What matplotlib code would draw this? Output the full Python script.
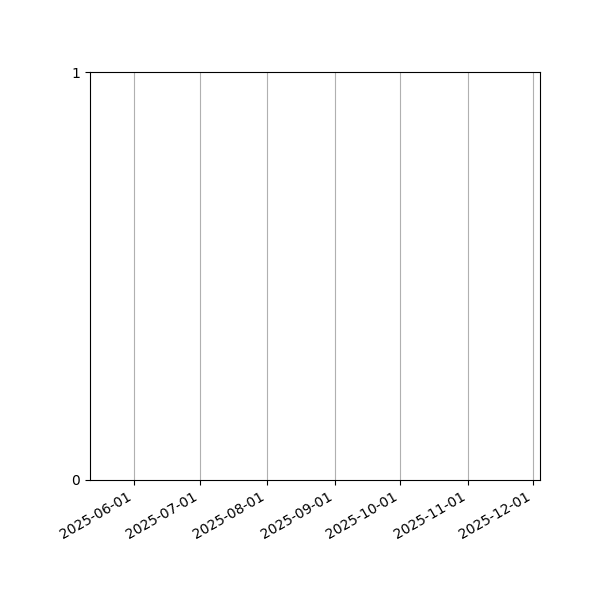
import matplotlib
matplotlib.use("Agg")
import matplotlib.pyplot as plt
import matplotlib.dates as mdates
from datetime import datetime

# empty date axis, only the range and the ticks are visible
xstart = datetime(2025, 5, 11, 19, 0)
xend = datetime(2025, 12, 4, 2, 0)
yticks = [0, 1]

fig = plt.figure(figsize=(6, 6), dpi=100)
ax = fig.add_subplot(111)
fig.subplots_adjust(left=0.15, right=0.9, top=0.88, bottom=0.2)

ax.set_xlim(xstart, xend)
ax.set_ylim(yticks[0], yticks[-1])
ax.set_yticks(yticks)
ax.xaxis.set_major_locator(mdates.MonthLocator())
ax.xaxis.set_major_formatter(mdates.DateFormatter("%Y-%m-%d"))
ax.grid(True, axis="x", color="#b0b0b0")

for lbl in ax.get_xticklabels():
    lbl.set_rotation(30)
    lbl.set_ha("right")

plt.savefig("out.png")
plt.close()
